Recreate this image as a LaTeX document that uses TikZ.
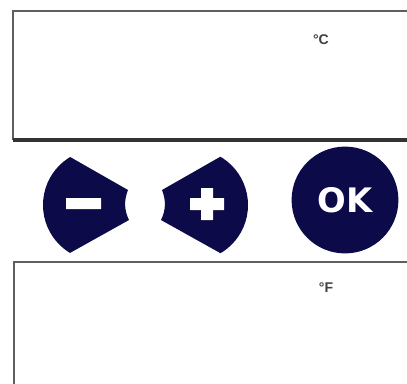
\documentclass[tikz,border=0pt]{standalone}
\usepackage{fontspec}
\setmainfont{Liberation Sans}
\newfontfamily\keyfont{DejaVu Sans}
\usepackage{xcolor}
\definecolor{navy}{RGB}{12,10,72}
\definecolor{frame}{RGB}{95,95,95}
\tikzset{
  screen/.style={draw=frame, line width=1.6pt},
  unit/.style={font=\bfseries\fontsize{10}{10}\selectfont, text=black!75, inner sep=0pt},
  bar/.style={fill=white, rounded corners=0.3pt}
}

\begin{document}
\begin{tikzpicture}[x=0.025cm, y=-0.025cm]
            \useasboundingbox (0,0) rectangle (407,383);
            % upper display
            \draw[screen] (410,11) -- (13,11) -- (13,139) -- (410,139);
            \draw[black!80, line width=2.6pt] (13,140) -- (410,140);
            \node[unit] (celsius) at (321,40) {°C};

            % minus key
            \begin{scope}
              \clip (0,117) -- (128,190) .. controls (124,200) and (124,210) .. (129,220) -- (0,292) -- cycle;
              \fill[navy] (99,205) circle[radius=1.4cm];
            \end{scope}
            \fill[bar] (66,198) rectangle (101,209);

            % plus key
            \begin{scope}
              \clip (290,117) -- (162,190) .. controls (166,200) and (166,210) .. (161,220) -- (290,292) -- cycle;
              \fill[navy] (192,205) circle[radius=1.4cm];
            \end{scope}
            \fill[bar] (190,198) rectangle (224,210);
            \fill[bar] (201,188) rectangle (213,220);

            % ok key
            \node[circle, fill=navy, minimum size=2.67cm, inner sep=0pt, text=white,
                  font=\keyfont\bfseries\fontsize{24}{24}\selectfont] (ok) at (345,200) {OK};

            % lower display
            \draw[screen] (410,262) -- (14,262) -- (14,386);
            \node[unit] (fahrenheit) at (326,288) {°F};
        \end{tikzpicture}
\end{document}
